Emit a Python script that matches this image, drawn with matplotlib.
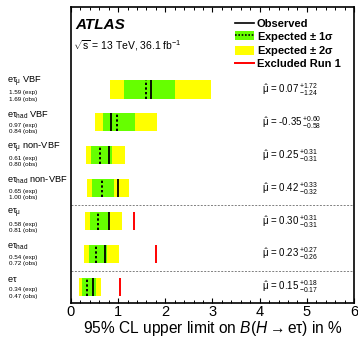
import numpy as np
import matplotlib
matplotlib.use('Agg')
import matplotlib.pyplot as plt
from matplotlib.lines import Line2D
from matplotlib.patches import Patch

plt.rcParams['font.family'] = ['Liberation Sans', 'DejaVu Sans']
plt.rcParams['mathtext.fontset'] = 'custom'
plt.rcParams['mathtext.rm'] = 'Liberation Sans'
plt.rcParams['mathtext.it'] = 'Liberation Sans:italic'
plt.rcParams['mathtext.bf'] = 'Liberation Sans:bold'
plt.rcParams['mathtext.default'] = 'regular'

# Kanaele, von oben nach unten
kanaele = [r'e$\tau_{\mu}$ VBF', r'e$\tau_{had}$ VBF', r'e$\tau_{\mu}$ non-VBF',
           r'e$\tau_{had}$ non-VBF', r'e$\tau_{\mu}$', r'e$\tau_{had}$', r'e$\tau$']
erwartet = [1.59, 0.97, 0.61, 0.65, 0.58, 0.54, 0.34]
beobachtet = [1.69, 0.84, 0.80, 1.00, 0.81, 0.72, 0.47]
sigma1_unten = [1.13, 0.68, 0.42, 0.44, 0.40, 0.38, 0.23]
sigma1_oben = [2.20, 1.36, 0.86, 0.91, 0.81, 0.76, 0.52]
sigma2_unten = [0.83, 0.51, 0.32, 0.33, 0.30, 0.28, 0.16]
sigma2_oben = [2.97, 1.82, 1.14, 1.23, 1.09, 1.02, 0.64]
run1 = [np.nan, np.nan, np.nan, np.nan, 1.34, 1.81, 1.04]
mu_hat = ['0.07', '-0.35', '0.25', '0.42', '0.30', '0.23', '0.15']
mu_plus = ['1.72', '0.60', '0.31', '0.33', '0.31', '0.27', '0.18']
mu_minus = ['1.24', '0.58', '0.31', '0.32', '0.31', '0.26', '0.17']

verde = '#66ff00'
amarillo = '#ffff00'

fig = plt.figure(figsize=(3.58, 3.39), dpi=100)
ax = fig.add_axes([0.1983, 0.1050, 0.7905, 0.8735])

n = len(kanaele)
y = np.arange(n)[::-1].astype(float)
h = 0.55

s2u = np.array(sigma2_unten)
s2o = np.array(sigma2_oben)
s1u = np.array(sigma1_unten)
s1o = np.array(sigma1_oben)

ax.barh(y, s2o - s2u, left=s2u, height=h, color=amarillo, linewidth=0)
ax.barh(y, s1o - s1u, left=s1u, height=h, color=verde, linewidth=0)
ax.vlines(beobachtet, y - h / 2, y + h / 2, color='black', linewidth=1.3)
ax.vlines(erwartet, y - h / 2, y + h / 2, color='black', linewidth=1.4,
          linestyles=(0, (1.2, 1.2)))
ax.vlines(run1, y - h / 2, y + h / 2, color='red', linewidth=1.4)

# Trennlinien zwischen den Gruppen
for yl in [0.5, 2.5]:
    ax.axhline(yl, color='gray', linewidth=0.7, linestyle=(0, (2, 1.5)))

# Beschriftungen links
trans = ax.get_yaxis_transform()
for i in range(n):
    ax.text(-0.226, y[i] + 0.23, kanaele[i], transform=trans, fontsize=6.7,
            ha='left', va='center', clip_on=False)
    ax.text(-0.219, y[i] - 0.09, f'{erwartet[i]:.2f} (exp)', transform=trans,
            fontsize=4.5, ha='left', va='center', clip_on=False)
    ax.text(-0.219, y[i] - 0.29, f'{beobachtet[i]:.2f} (obs)', transform=trans,
            fontsize=4.5, ha='left', va='center', clip_on=False)
    ax.text(4.05, y[i], r'$\hat{\mu}$ = ' + mu_hat[i] +
            r'$\,^{+' + mu_plus[i] + r'}_{-' + mu_minus[i] + r'}$',
            fontsize=7, ha='left', va='center')

ax.set_xlim(0, 6)
ax.set_ylim(-0.5, 8.5)
ax.set_yticks([])
ax.set_xticks(range(7))
ax.set_xticks(np.arange(0, 6.01, 0.2), minor=True)
ax.tick_params(axis='x', which='both', direction='in', top=True, labelsize=10.5, pad=1.5)
ax.tick_params(axis='x', which='major', length=3.8, width=0.8)
ax.tick_params(axis='x', which='minor', length=2.2, width=0.7)
for sp in ax.spines.values():
    sp.set_linewidth(1.2)

ax.set_xlabel(r'95% CL upper limit on $\mathit{B}(\mathit{H} \rightarrow e\tau)$ in %',
              fontsize=11.2, labelpad=0)

ax.text(0.014, 0.94, 'ATLAS', transform=ax.transAxes, fontsize=11,
        fontweight='bold', fontstyle='italic', va='center', ha='left')
ax.text(0.008, 0.872, r'$\sqrt{s}$ = 13 TeV, 36.1 fb$^{-1}$', transform=ax.transAxes,
        fontsize=7.5, va='center', ha='left')

griffe = [Line2D([], [], color='black', linewidth=1.2),
          (Patch(facecolor=verde, linewidth=0),
           Line2D([], [], color='black', linewidth=1.2, linestyle=(0, (1, 1)))),
          Patch(facecolor=amarillo, linewidth=0),
          Line2D([], [], color='red', linewidth=1.4)]
etiquetas = [r'Observed', r'Expected $\pm$ 1$\sigma$',
             r'Expected $\pm$ 2$\sigma$', 'Excluded Run 1']
leg = ax.legend(griffe, etiquetas, loc='upper left', bbox_to_anchor=(0.58, 0.962),
                frameon=False, fontsize=8, handlelength=1.7, handleheight=0.8,
                handletextpad=0.25, labelspacing=0.08, borderpad=0, borderaxespad=0)
for t in leg.get_texts():
    t.set_fontweight('bold')

fig.savefig('out.png', dpi=100)
